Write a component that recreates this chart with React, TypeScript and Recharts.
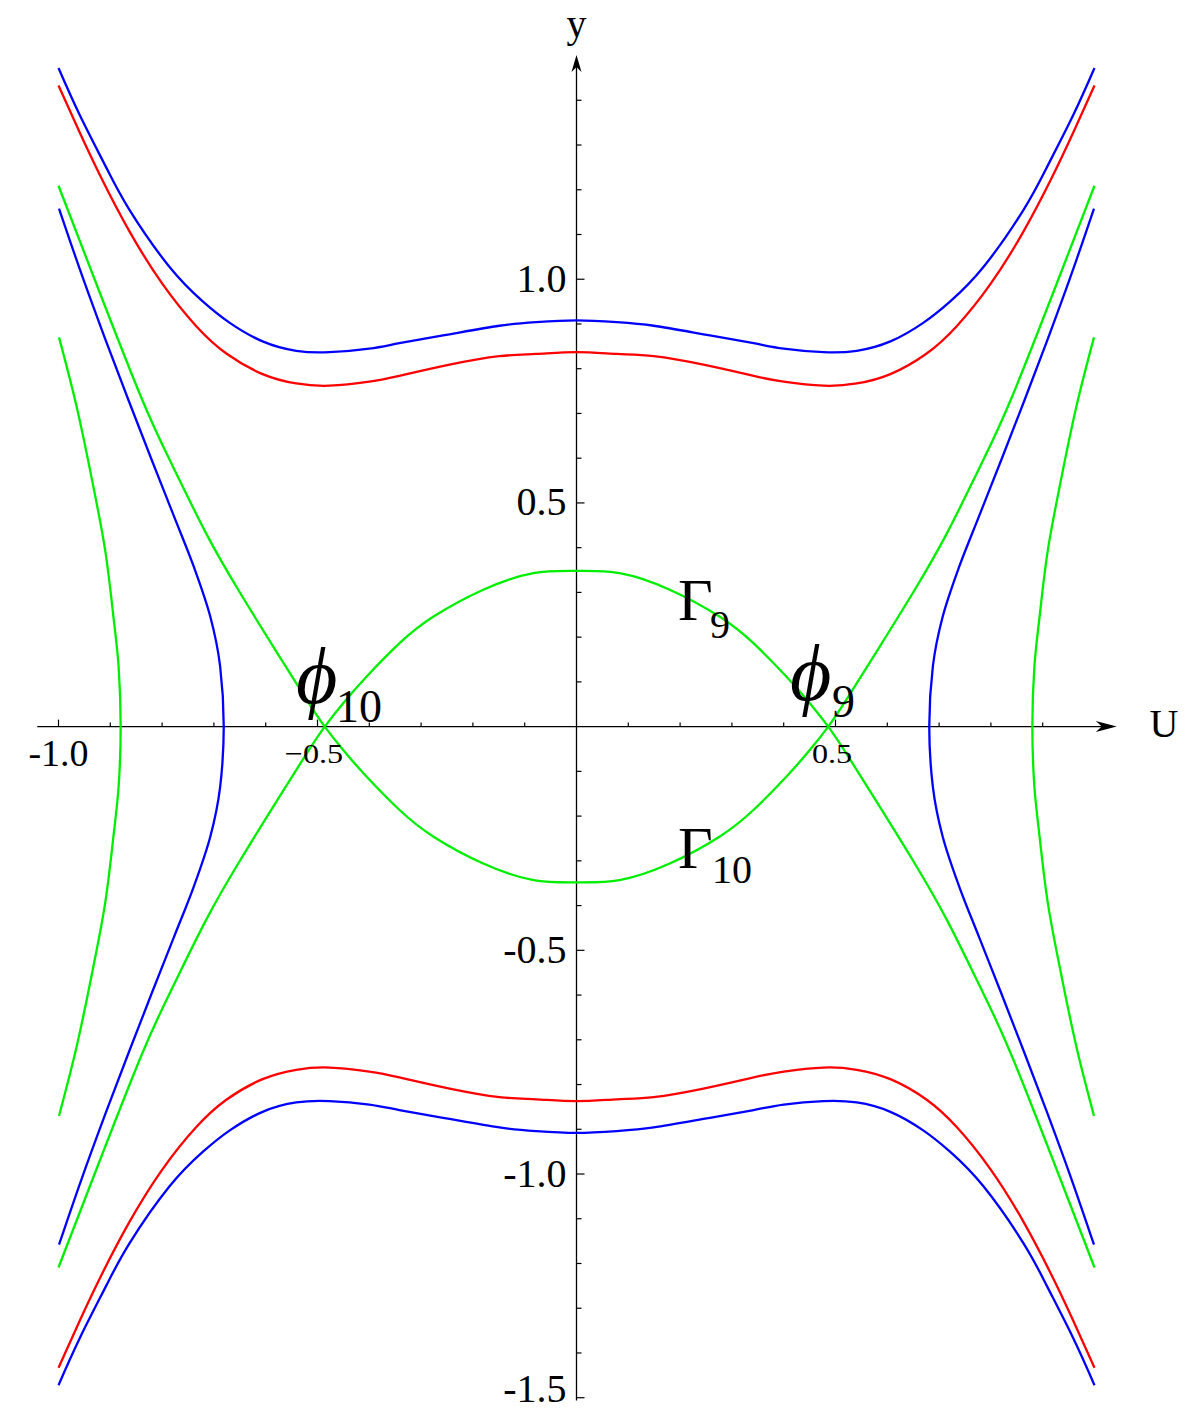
import { LineChart, Line, XAxis, YAxis, ReferenceLine, ReferenceDot } from 'recharts'

type Pt = [number, number]

// level curves, as [U, y]
const blueTop: Pt[] = [
  [-1.0, 1.472], [-0.959, 1.367], [-0.908, 1.25], [-0.863, 1.155], [-0.786, 1.028], [-0.721, 0.95],
  [-0.67, 0.903], [-0.606, 0.861], [-0.541, 0.84], [-0.477, 0.837], [-0.4, 0.845], [-0.342, 0.857],
  [-0.245, 0.877], [-0.149, 0.896], [-0.078, 0.904], [0, 0.908], [0.078, 0.904], [0.149, 0.896],
  [0.245, 0.877], [0.342, 0.857], [0.4, 0.845], [0.477, 0.837], [0.541, 0.84], [0.606, 0.861],
  [0.67, 0.903], [0.721, 0.95], [0.786, 1.028], [0.863, 1.155], [0.908, 1.25], [0.959, 1.367], [1.0, 1.472],
]
const blueBottom: Pt[] = [
  [-1.0, -1.472], [-0.959, -1.367], [-0.908, -1.25], [-0.863, -1.155], [-0.786, -1.028], [-0.721, -0.95],
  [-0.67, -0.903], [-0.606, -0.861], [-0.541, -0.84], [-0.477, -0.837], [-0.4, -0.845], [-0.342, -0.857],
  [-0.245, -0.877], [-0.149, -0.896], [-0.078, -0.904], [0, -0.908], [0.078, -0.904], [0.149, -0.896],
  [0.245, -0.877], [0.342, -0.857], [0.4, -0.845], [0.477, -0.837], [0.541, -0.84], [0.606, -0.861],
  [0.67, -0.903], [0.721, -0.95], [0.786, -1.028], [0.863, -1.155], [0.908, -1.25], [0.959, -1.367], [1.0, -1.472],
]
const redTop: Pt[] = [
  [-1.0, 1.433], [-0.959, 1.328], [-0.918, 1.228], [-0.863, 1.107], [-0.799, 0.989], [-0.734, 0.895],
  [-0.676, 0.834], [-0.606, 0.788], [-0.541, 0.767], [-0.477, 0.762], [-0.4, 0.771], [-0.342, 0.784],
  [-0.245, 0.809], [-0.149, 0.828], [-0.078, 0.833], [0, 0.837], [0.078, 0.833], [0.149, 0.828],
  [0.245, 0.809], [0.342, 0.784], [0.4, 0.771], [0.477, 0.762], [0.541, 0.767], [0.606, 0.788],
  [0.676, 0.834], [0.734, 0.895], [0.799, 0.989], [0.863, 1.107], [0.918, 1.228], [0.959, 1.328], [1.0, 1.433],
]
const redBottom: Pt[] = [
  [-1.0, -1.433], [-0.959, -1.328], [-0.918, -1.228], [-0.863, -1.107], [-0.799, -0.989], [-0.734, -0.895],
  [-0.676, -0.834], [-0.606, -0.788], [-0.541, -0.767], [-0.477, -0.762], [-0.4, -0.771], [-0.342, -0.784],
  [-0.245, -0.809], [-0.149, -0.828], [-0.078, -0.833], [0, -0.837], [0.078, -0.833], [0.149, -0.828],
  [0.245, -0.809], [0.342, -0.784], [0.4, -0.771], [0.477, -0.762], [0.541, -0.767], [0.606, -0.788],
  [0.676, -0.834], [0.734, -0.895], [0.799, -0.989], [0.863, -1.107], [0.918, -1.228], [0.959, -1.328], [1.0, -1.433],
]
// separatrix through phi10 and phi9, lower arc = Gamma10
const greenSepA: Pt[] = [
  [-1.0, 1.209], [-0.932, 1.005], [-0.84, 0.735], [-0.779, 0.581], [-0.715, 0.432], [-0.651, 0.302],
  [-0.586, 0.18], [-0.522, 0.062], [-0.486, 0], [-0.45, -0.053], [-0.405, -0.112], [-0.341, -0.187],
  [-0.276, -0.246], [-0.18, -0.306], [-0.083, -0.343], [0, -0.348], [0.083, -0.343], [0.18, -0.306],
  [0.276, -0.246], [0.341, -0.187], [0.405, -0.112], [0.45, -0.053], [0.486, 0], [0.522, 0.062],
  [0.586, 0.18], [0.651, 0.302], [0.715, 0.432], [0.779, 0.581], [0.84, 0.735], [0.932, 1.005], [1.0, 1.209],
]
// upper arc = Gamma9
const greenSepB: Pt[] = [
  [-1.0, -1.209], [-0.932, -1.005], [-0.84, -0.735], [-0.779, -0.581], [-0.715, -0.432], [-0.651, -0.302],
  [-0.586, -0.18], [-0.522, -0.062], [-0.486, 0], [-0.45, 0.053], [-0.405, 0.112], [-0.341, 0.187],
  [-0.276, 0.246], [-0.18, 0.306], [-0.083, 0.343], [0, 0.348], [0.083, 0.343], [0.18, 0.306],
  [0.276, 0.246], [0.341, 0.187], [0.405, 0.112], [0.45, 0.053], [0.486, 0], [0.522, -0.062],
  [0.586, -0.18], [0.651, -0.302], [0.715, -0.432], [0.779, -0.581], [0.84, -0.735], [0.932, -1.005], [1.0, -1.209],
]
const blueLeft: Pt[] = [
  [-0.999, 1.158], [-0.956, 1.013], [-0.909, 0.864], [-0.865, 0.73], [-0.82, 0.596], [-0.777, 0.47],
  [-0.739, 0.358], [-0.707, 0.246], [-0.688, 0.135], [-0.681, 0], [-0.688, -0.135], [-0.707, -0.246],
  [-0.739, -0.358], [-0.777, -0.47], [-0.82, -0.596], [-0.865, -0.73], [-0.909, -0.864], [-0.956, -1.013], [-0.999, -1.158],
]
const blueRight: Pt[] = [
  [0.999, 1.158], [0.956, 1.013], [0.909, 0.864], [0.865, 0.73], [0.82, 0.596], [0.777, 0.47],
  [0.739, 0.358], [0.707, 0.246], [0.688, 0.135], [0.681, 0], [0.688, -0.135], [0.707, -0.246],
  [0.739, -0.358], [0.777, -0.47], [0.82, -0.596], [0.865, -0.73], [0.909, -0.864], [0.956, -1.013], [0.999, -1.158],
]
const greenLeft: Pt[] = [
  [-0.999, 0.87], [-0.968, 0.73], [-0.934, 0.544], [-0.91, 0.395], [-0.894, 0.246], [-0.884, 0.135],
  [-0.88, 0], [-0.884, -0.135], [-0.894, -0.246], [-0.91, -0.395], [-0.934, -0.544], [-0.968, -0.73], [-0.999, -0.87],
]
const greenRight: Pt[] = [
  [0.999, 0.87], [0.968, 0.73], [0.934, 0.544], [0.91, 0.395], [0.894, 0.246], [0.884, 0.135],
  [0.88, 0], [0.884, -0.135], [0.894, -0.246], [0.91, -0.395], [0.934, -0.544], [0.968, -0.73], [0.999, -0.87],
]

const xTicks = [-1.0, -0.9, -0.8, -0.7, -0.6, -0.5, -0.4, -0.3, -0.2, -0.1, 0.1, 0.2, 0.3, 0.4, 0.5, 0.6, 0.7, 0.8, 0.9]
const yTicks = [
  -1.5, -1.4, -1.3, -1.2, -1.1, -1.0, -0.9, -0.8, -0.7, -0.6, -0.5, -0.4, -0.3, -0.2, -0.1,
  0.1, 0.2, 0.3, 0.4, 0.5, 0.6, 0.7, 0.8, 0.9, 1.0, 1.1, 1.2, 1.3, 1.4,
]
const xLabelAt = [-1.0, -0.5, 0.5]
const xLabelText = ['-1.0', '\u22120.5', '0.5']
const yLabelAt = [1.0, 0.5, -0.5, -1.0, -1.5]
const yLabelText = ['1.0', '0.5', '-0.5', '-1.0', '-1.5']

const SERIF = "'Liberation Serif', 'Times New Roman', serif"
const BLUE = '#0000ff'
const RED = '#ff0000'
const GREEN = '#00ee00'

// curves over U use a natural spline, the side branches are monotone in y
const curves = [
  { id: 'blueTop', pts: blueTop, color: BLUE, curve: 'natural' },
  { id: 'blueBottom', pts: blueBottom, color: BLUE, curve: 'natural' },
  { id: 'redTop', pts: redTop, color: RED, curve: 'natural' },
  { id: 'redBottom', pts: redBottom, color: RED, curve: 'natural' },
  { id: 'greenSepA', pts: greenSepA, color: GREEN, curve: 'natural' },
  { id: 'greenSepB', pts: greenSepB, color: GREEN, curve: 'natural' },
  { id: 'blueLeft', pts: blueLeft, color: BLUE, curve: 'monotoneY' },
  { id: 'blueRight', pts: blueRight, color: BLUE, curve: 'monotoneY' },
  { id: 'greenLeft', pts: greenLeft, color: GREEN, curve: 'monotoneY' },
  { id: 'greenRight', pts: greenRight, color: GREEN, curve: 'monotoneY' },
] as const

const toRows = (pts: readonly Pt[]) => pts.map(([u, y]) => ({ u, y }))
const isMajor = (t: number) => Math.abs(t * 2 - Math.round(t * 2)) < 1e-9

const xTickShape = (major: boolean) => (p: any) => (
  <line x1={p.cx} y1={p.cy} x2={p.cx} y2={p.cy - (major ? 7 : 4)} stroke="#000" strokeWidth={1.2} />
)
const yTickShape = (major: boolean) => (p: any) => (
  <line x1={p.cx} y1={p.cy} x2={p.cx + (major ? 8 : 5)} y2={p.cy} stroke="#000" strokeWidth={1.2} />
)

const textShape = (text: string, size: number, anchor: 'start' | 'middle' | 'end', dx: number, dy: number, sx = 1) => (p: any) => (
  <text
    transform={`translate(${p.cx + dx},${p.cy + dy}) scale(${sx},1)`}
    fontFamily={SERIF}
    fontSize={size}
    textAnchor={anchor}
    fill="#000"
  >
    {text}
  </text>
)

const symShape = (main: string, sub: string, mainSize: number, subSize: number, subDx: number, subDy: number, italic: boolean) => (p: any) => (
  <text x={p.cx} y={p.cy} fontFamily={SERIF} fill="#000">
    <tspan fontSize={mainSize} fontStyle={italic ? 'italic' : 'normal'}>{main}</tspan>
    <tspan x={p.cx + subDx} y={p.cy + subDy} fontSize={subSize}>{sub}</tspan>
  </text>
)

const xArrow = (p: any) => (
  <polygon points={`${p.cx},${p.cy} ${p.cx - 21},${p.cy - 5.5} ${p.cx - 15},${p.cy} ${p.cx - 21},${p.cy + 5.5}`} fill="#000" />
)
const yArrow = (p: any) => (
  <polygon points={`${p.cx},${p.cy} ${p.cx - 5},${p.cy + 17} ${p.cx},${p.cy + 12} ${p.cx + 5},${p.cy + 17}`} fill="#000" />
)

export default function App() {
  return (
    <div style={{ position: 'absolute', left: 0, top: 0, background: '#fff' }}>
      <LineChart width={1190} height={1416} margin={{ top: 10.8, right: 17.8, bottom: 0.4, left: 6.7 }}>
        <XAxis type="number" dataKey="u" domain={[-1.1, 1.15]} allowDataOverflow hide />
        <YAxis type="number" dataKey="y" domain={[-1.54, 1.6]} allowDataOverflow hide />

        <ReferenceLine segment={[{ x: -1.041, y: 0 }, { x: 1.03, y: 0 }]} stroke="#000" strokeWidth={1.3} />
        <ReferenceLine segment={[{ x: 0, y: -1.506 }, { x: 0, y: 1.48 }]} stroke="#000" strokeWidth={1.3} />
        <ReferenceDot x={1.043} y={0} r={1} shape={xArrow} />
        <ReferenceDot x={0} y={1.501} r={1} shape={yArrow} />

        {xTicks.map((t) => (
          <ReferenceDot key={`xt${t}`} x={t} y={0} r={1} shape={xTickShape(isMajor(t))} />
        ))}
        {yTicks.map((t) => (
          <ReferenceDot key={`yt${t}`} x={0} y={t} r={1} shape={yTickShape(isMajor(t))} />
        ))}

        {xLabelAt.map((t, i) => (
          <ReferenceDot
            key={`xl${t}`}
            x={t}
            y={0}
            r={1}
            shape={i === 0 ? textShape(xLabelText[i], 38, 'middle', 0, 39.5) : textShape(xLabelText[i], 28, 'middle', -3.5, 36.5, 1.15)}
          />
        ))}
        {yLabelAt.map((t, i) => (
          <ReferenceDot
            key={`yl${t}`}
            x={0}
            y={t}
            r={1}
            shape={textShape(yLabelText[i], 40, 'end', -10, t === -1.5 ? 4 : 12.5)}
          />
        ))}
        <ReferenceDot x={1.134} y={0} r={1} shape={textShape('U', 40, 'middle', 0, 10.5)} />
        <ReferenceDot x={0} y={1.501} r={1} shape={textShape('y', 40, 'middle', 0, -18)} />

        {curves.map((c) => (
          <Line
            key={c.id}
            data={toRows(c.pts)}
            dataKey="y"
            type={c.curve}
            stroke={c.color}
            strokeWidth={2.3}
            dot={false}
            activeDot={false}
            isAnimationActive={false}
          />
        ))}

        <ReferenceDot x={-0.5415} y={0.0527} r={1} shape={symShape('\u03d5', '10', 80, 46, 40, 19, true)} />
        <ReferenceDot x={0.412} y={0.0596} r={1} shape={symShape('\u03d5', '9', 80, 46, 42, 17, true)} />
        <ReferenceDot x={0.196} y={0.238} r={1} shape={symShape('\u0393', '9', 60, 40, 32, 18, false)} />
        <ReferenceDot x={0.196} y={-0.316} r={1} shape={symShape('\u0393', '10', 60, 40, 34, 15, false)} />
      </LineChart>
    </div>
  )
}
